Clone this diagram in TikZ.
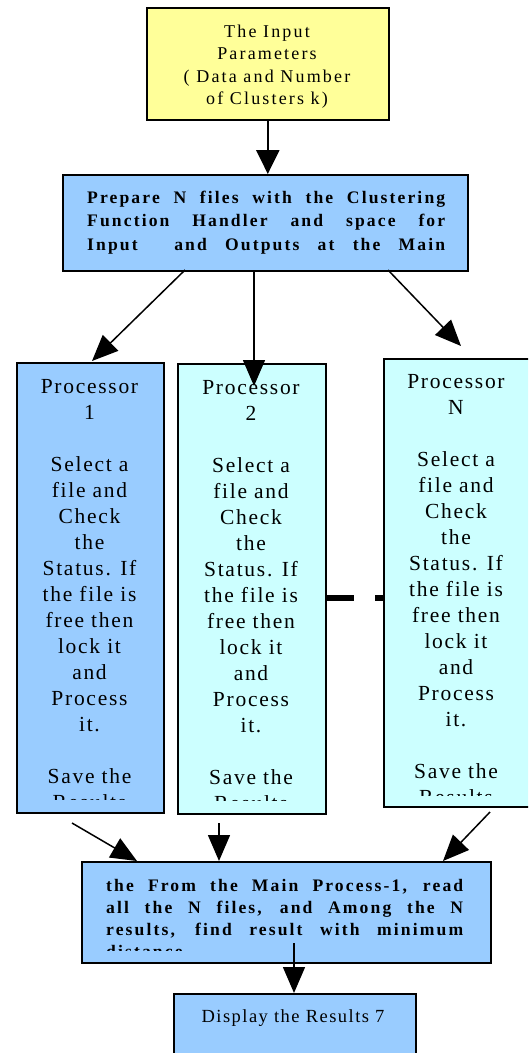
\documentclass[tikz,border=0pt]{standalone}
\usepackage{fontspec}
\setmainfont{Liberation Serif}
\newfontfamily\tms[LetterSpace=12]{Liberation Serif}
\newfontfamily\tmsA[LetterSpace=8]{Liberation Serif}
\newfontfamily\tmsB[LetterSpace=12]{Liberation Serif}
\usetikzlibrary{arrows.meta}
\definecolor{yel}{HTML}{FFFF99}
\definecolor{blu}{HTML}{99CCFF}
\definecolor{cya}{HTML}{CCFFFF}
\tikzset{
  box/.style={draw=black, line width=1.6pt, inner sep=0pt, anchor=north west},
  arr/.style={-{Triangle[length=26pt,width=22pt]}, line width=1.5pt},
  toparr/.style={-{Triangle[length=24pt,width=23pt]}, line width=2.4pt},
  ptxt/.style={inner sep=0pt, align=center, anchor=base, font=\tmsA\fontsize{21.5}{26}\selectfont},
  stxt/.style={inner sep=0pt, align=center, anchor=base, font=\tmsB\fontsize{18}{22.5}\selectfont},
  dtxt/.style={inner sep=0pt, align=center, anchor=base, font=\tmsA\fontsize{18.5}{22}\selectfont},
  btxt/.style={inner sep=0pt, align=left, anchor=base west, font=\tms\bfseries\fontsize{17.6}{22}\selectfont}
}
\begin{document}
\begin{tikzpicture}[x=1pt,y=1pt]
\clip (0,0) rectangle (528,-1053);
% boxes
\node[box, fill=yel, minimum width=242pt, minimum height=112pt] (inp) at (146,-7) {};
\node[box, fill=blu, minimum width=405pt, minimum height=96pt] (prep) at (62,-174) {};
\node[box, fill=blu, minimum width=147pt, minimum height=450pt] (p1) at (16,-362) {};
\node[box, fill=cya, minimum width=148pt, minimum height=450pt] (p2) at (177,-363) {};
\node[box, fill=cya, minimum width=147pt, minimum height=448pt] (pn) at (383,-358) {};
\node[box, fill=blu, minimum width=409pt, minimum height=101pt] (main) at (81,-861) {};
\node[box, fill=blu, minimum width=242pt, minimum height=80pt] (disp) at (173,-993) {};
% texts (base anchor = baseline of the last line)
\node[stxt] (tinp) at (267,-104.5) {The Input\\Parameters\\( Data and Number\\of Clusters k)};
\node[btxt, font=\tms\bfseries\fontsize{17.6}{23.5}\selectfont] (tprep) at (87,-250) {\makebox[358pt][s]{Prepare N files with the Clustering}\\
  \makebox[358pt][s]{Function Handler and space for}\\
  \makebox[358pt][s]{Input\ \ and Outputs at the Main}};
\begin{scope}
\clip (16,-362) rectangle (163,-799);
\node[ptxt] (tp1) at (89.5,-809) {Processor\\1\\~\\Select a\\file and\\Check\\the\\Status. If\\the file is\\free then\\lock it\\and\\Process\\it.\\~\\Save the\\Results};
\end{scope}
\begin{scope}
\clip (177,-363) rectangle (325,-800);
\node[ptxt] (tp2) at (251,-810) {Processor\\2\\~\\Select a\\file and\\Check\\the\\Status. If\\the file is\\free then\\lock it\\and\\Process\\it.\\~\\Save the\\Results};
\end{scope}
\begin{scope}
\clip (383,-358) rectangle (530,-795);
\node[ptxt] (tpn) at (456,-804) {Processor\\N\\~\\Select a\\file and\\Check\\the\\Status. If\\the file is\\free then\\lock it\\and\\Process\\it.\\~\\Save the\\Results};
\end{scope}
\begin{scope}
\clip (81,-861) rectangle (490,-950);
\node[btxt] (tmain) at (106,-957) {\makebox[357pt][s]{the From the Main Process-1, read}\\
  \makebox[357pt][s]{all the N files, and Among the N}\\
  \makebox[357pt][s]{results, find result with minimum}\\
  distance};
\end{scope}
\node[dtxt] (tdisp) at (293,-1022) {Display the Results 7};
% dashed link between processor 2 and N
\draw[line width=6pt] (p2.east |- 0,-598) -- (354,-598);
\draw[line width=6pt] (375,-598) -- (pn.west |- 0,-598);
% arrows
\draw[toparr] (inp.south) -- (prep.north -| inp.south);
\coordinate (s1) at (185,-270);
\coordinate (e1) at (92,-361);
\coordinate (s2) at (254,-270);
\coordinate (e2) at (254,-386);
\coordinate (s3) at (388,-270);
\coordinate (e3) at (461,-346);
\draw[arr] (s1) -- (e1);
\draw[arr] (s2) -- (e2);
\draw[arr] (s3) -- (e3);
\coordinate (f1) at (72,-823);
\coordinate (g1) at (137,-861);
\coordinate (f2) at (219,-823);
\coordinate (g2) at (219,-861);
\coordinate (f3) at (490,-812);
\coordinate (g3) at (443,-861);
\draw[arr] (f1) -- (g1);
\draw[arr] (f2) -- (g2);
\draw[arr] (f3) -- (g3);
\coordinate (m1) at (294,-943);
\draw[arr] (m1) -- (disp.north -| m1);
\end{tikzpicture}
\end{document}
